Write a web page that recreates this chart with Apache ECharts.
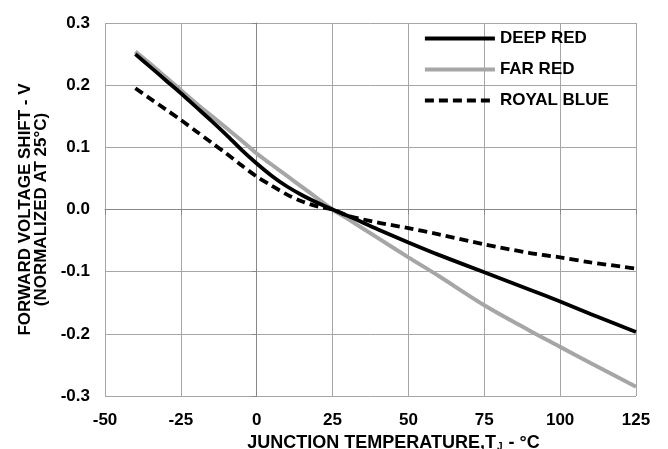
<!DOCTYPE html>
<html>
<head>
<meta charset="utf-8">
<script src="https://cdn.jsdelivr.net/npm/echarts@6/dist/echarts.min.js"></script>
<style>
  html, body { margin: 0; padding: 0; background: #fff; }
  #chart { width: 668px; height: 449px; }
</style>
</head>
<body>
<div id="chart"></div>
<script>
const temps     = [-40, -35, -30, -25, -20, -15, -10, -5, 0, 5, 10, 15, 20, 25, 30, 40, 50, 60, 75, 90, 100, 110, 125];
const deepRed   = [0.250, 0.229, 0.208, 0.187, 0.165, 0.143, 0.120, 0.096, 0.074, 0.054, 0.037, 0.023, 0.011, 0, -0.010, -0.032, -0.053, -0.073, -0.101, -0.129, -0.148, -0.168, -0.197];
const farRed    = [0.254, 0.234, 0.213, 0.192, 0.171, 0.151, 0.131, 0.111, 0.090, 0.072, 0.054, 0.036, 0.018, 0, -0.015, -0.046, -0.077, -0.107, -0.154, -0.195, -0.221, -0.247, -0.285];
const royalBlue = [0.195, 0.178, 0.161, 0.144, 0.126, 0.108, 0.090, 0.071, 0.053, 0.038, 0.024, 0.013, 0.005, 0, -0.010, -0.021, -0.030, -0.040, -0.056, -0.070, -0.077, -0.085, -0.095];
const seriesNames = ['DEEP RED', 'FAR RED', 'ROYAL BLUE'];
const xTicks = { min: -50, max: 125, interval: 25 };
const yTicks = { min: -0.3, max: 0.3, interval: 0.1 };

const zip = arr => temps.map((t, i) => [t, arr[i]]);
const font = 'Liberation Sans, Arial, sans-serif';
const gridColor = '#a6a6a6';

const chart = echarts.init(document.getElementById('chart'), null, { renderer: 'canvas' });
chart.setOption({
  animation: false,
  backgroundColor: '#fff',
  grid: { left: 105, right: 32, top: 23, bottom: 53, containLabel: false, outerBoundsMode: 'none' },
  legend: {
    orient: 'vertical',
    left: 418,
    top: 25,
    padding: 5,
    itemWidth: 70,
    itemHeight: 17,
    itemGap: 14,
    itemStyle: { opacity: 0 },
    lineStyle: { width: 3.8 },
    textStyle: { fontFamily: font, fontWeight: 'bold', fontSize: 17, color: '#000', lineHeight: 17 },
    data: seriesNames
  },
  xAxis: {
    type: 'value',
    min: xTicks.min, max: xTicks.max, interval: xTicks.interval,
    name: '{a|JUNCTION TEMPERATURE,T}{s|J}{a| - °C}',
    nameLocation: 'middle',
    nameGap: 34,
    nameTextStyle: {
      padding: [0, 0, 0, 46],
      rich: {
        a: { fontFamily: font, fontWeight: 'bold', fontSize: 18, color: '#000' },
        s: { fontFamily: font, fontWeight: 'bold', fontSize: 10, color: '#000', verticalAlign: 'bottom', padding: [7, 1, 0, 1] }
      }
    },
    axisLine: { show: true, lineStyle: { color: '#888', width: 1 } },
    axisTick: { show: true, length: 5, inside: false, lineStyle: { color: '#888' } },
    axisLabel: { margin: 16, fontFamily: font, fontWeight: 'bold', fontSize: 17, color: '#000' },
    splitLine: { show: true, lineStyle: { color: gridColor, width: 1 } }
  },
  yAxis: {
    type: 'value',
    min: yTicks.min, max: yTicks.max, interval: yTicks.interval,
    name: 'FORWARD VOLTAGE SHIFT - V\n(NORMALIZED AT 25°C)',
    nameLocation: 'middle',
    nameGap: 48,
    nameTextStyle: { fontFamily: font, fontWeight: 'bold', fontSize: 17, color: '#000', lineHeight: 16 },
    axisLine: { show: true, lineStyle: { color: '#888', width: 1 } },
    axisTick: { show: true, length: 5, inside: false, lineStyle: { color: '#888' } },
    axisLabel: {
      margin: 15, fontFamily: font, fontWeight: 'bold', fontSize: 17, color: '#000',
      formatter: v => (Math.abs(v) < 1e-9 ? 0 : v).toFixed(1)
    },
    splitLine: { show: true, lineStyle: { color: gridColor, width: 1 } }
  },
  series: [
    {
      name: seriesNames[0], type: 'line', data: zip(deepRed), smooth: 0.3,
      symbol: 'none', showSymbol: false,
      lineStyle: { color: '#000', width: 3.8 }, itemStyle: { color: '#000' }, z: 3
    },
    {
      name: seriesNames[1], type: 'line', data: zip(farRed), smooth: 0.3,
      symbol: 'none', showSymbol: false,
      lineStyle: { color: '#a6a6a6', width: 4 }, itemStyle: { color: '#a6a6a6' }, z: 2
    },
    {
      name: seriesNames[2], type: 'line', data: zip(royalBlue), smooth: 0.3,
      symbol: 'none', showSymbol: false,
      lineStyle: { color: '#000', width: 3.8, type: [9, 5] }, itemStyle: { color: '#000' }, z: 4
    }
  ]
});
</script>
</body>
</html>
